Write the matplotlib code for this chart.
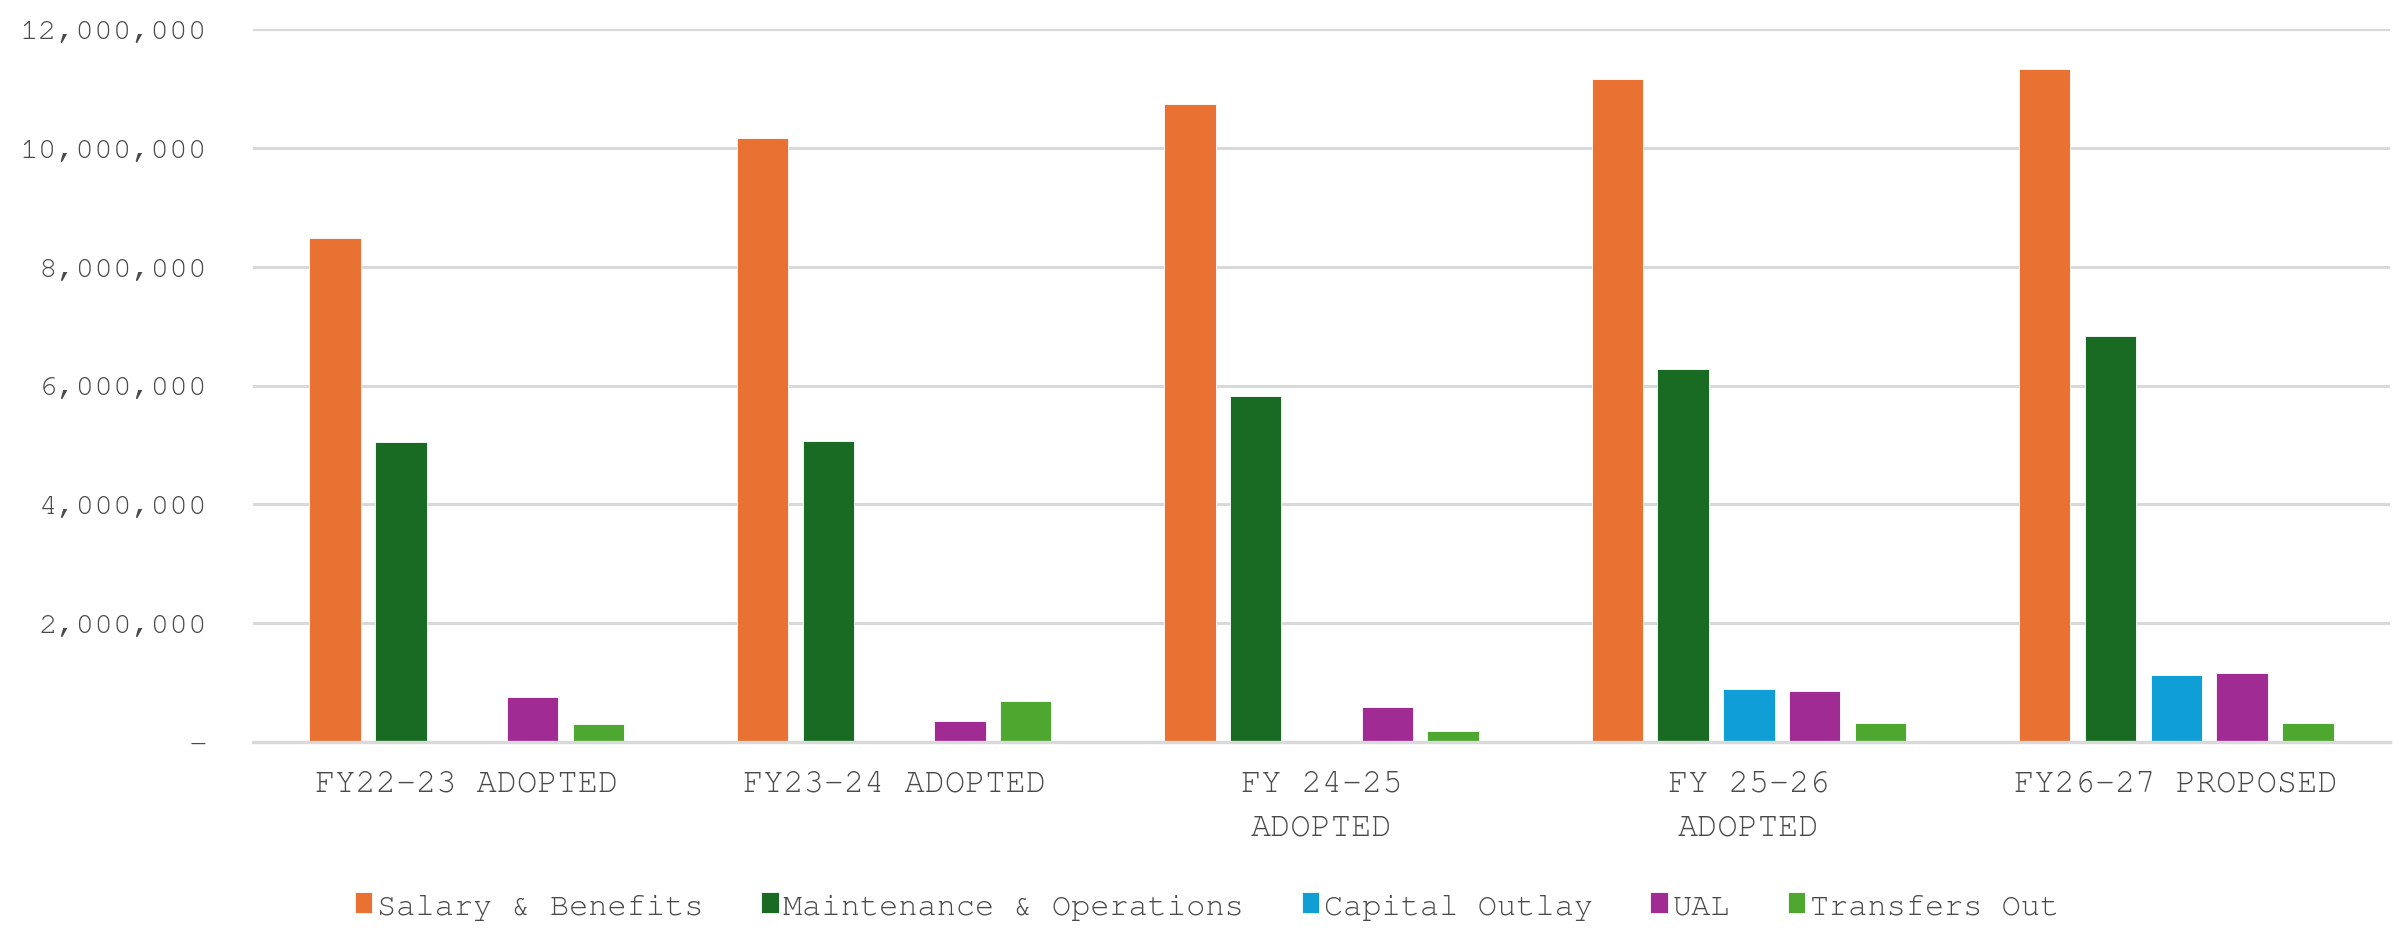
import matplotlib
matplotlib.use("Agg")
import matplotlib.pyplot as plt
import numpy as np
from matplotlib.ticker import FuncFormatter
from matplotlib import font_manager
import logging
logging.getLogger("matplotlib.font_manager").setLevel(logging.ERROR)

categories = ["FY22-23 ADOPTED", "FY23-24 ADOPTED", "FY 24-25\nADOPTED", "FY 25-26\nADOPTED", "FY26-27 PROPOSED"]
series_names = ["Salary & Benefits", "Maintenance & Operations", "Capital Outlay", "UAL", "Transfers Out"]
salary = [8490000, 10170000, 10740000, 11160000, 11330000]
maintenance = [5050000, 5070000, 5820000, 6270000, 6840000]
capital = [0, 0, 0, 897000, 1130000]
ual = [763000, 357000, 596000, 858000, 1159000]
transfers = [295000, 690000, 190000, 323000, 323000]
colors = ["#E97132", "#196B24", "#0F9ED5", "#A02B93", "#4EA72E"]
yticks = [0, 2000000, 4000000, 6000000, 8000000, 10000000, 12000000]

TXT = "#4a4a4a"
installed = {f.name for f in font_manager.fontManager.ttflist}
FONT = "Liberation Mono"
for cand in ["Courier New", "Nimbus Mono PS", "Nimbus Mono L", "FreeMono", "Courier Prime", "Courier 10 Pitch", "Liberation Mono"]:
    if cand in installed:
        FONT = cand
        break

fig = plt.figure(figsize=(24.07, 9.37), dpi=100)
ax = fig.add_axes([253/2407, 1-743/937, (2390-253)/2407, (743-30)/937])

x = np.arange(len(categories))
slot = 0.154
width = 0.12
all_series = [salary, maintenance, capital, ual, transfers]
for i, (vals, name, c) in enumerate(zip(all_series, series_names, colors)):
    ax.bar(x + (i - 2) * slot, vals, width=width, color=c, label=name,
           edgecolor="white", linewidth=0.6, zorder=3)

ax.set_xlim(-0.5, len(categories) - 0.5)
ax.set_ylim(0, 12000000)
ax.set_yticks(yticks)

def fmt(v, pos):
    if v == 0:
        return "-"
    return f"{int(v):,}"
ax.yaxis.set_major_formatter(FuncFormatter(fmt))
ax.set_xticks(x)
ax.set_xticklabels(categories, fontfamily=FONT, fontsize=24.2, color=TXT, linespacing=1.8)
for lab in ax.get_yticklabels():
    lab.set_fontfamily(FONT)
    lab.set_fontsize(22.5)
    lab.set_color(TXT)
ax.tick_params(axis="y", length=0, pad=33)
ax.tick_params(axis="x", length=0, pad=20)

ax.grid(axis="y", color="#D9D9D9", linewidth=2.2, zorder=0)
for s in ["top", "right", "left"]:
    ax.spines[s].set_visible(False)
ax.spines["bottom"].set_color("#D9D9D9")
ax.spines["bottom"].set_linewidth(2.4)
ax.spines["bottom"].set_zorder(4)

leg = fig.legend(loc="center", bbox_to_anchor=(1207/2407, 1-907/937), ncol=5, frameon=False,
                 prop={"family": FONT, "size": 23}, handlelength=0.55, handleheight=0.6,
                 handletextpad=0.15, columnspacing=1.8, borderaxespad=0)
for t in leg.get_texts():
    t.set_color(TXT)

fig.savefig("out.png", dpi=100, facecolor="white")
